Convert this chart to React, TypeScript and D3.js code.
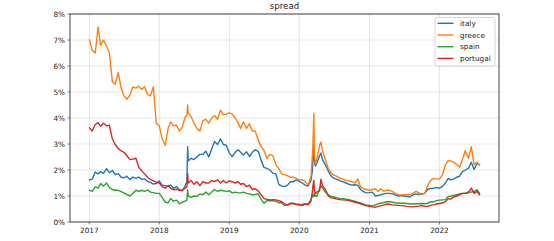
import React from "react";
import * as d3 from "d3";

// Spread values in percent, sampled on the `dates` grid below
const italy = [
  1.62, 1.65, 1.92, 1.85, 1.94, 1.87, 2.05, 1.9, 1.98, 1.82, 1.86, 1.72,
  1.7, 1.76, 1.63, 1.73, 1.68, 1.73, 1.64, 1.66, 1.56, 1.52, 1.46, 1.48,
  1.58, 1.42, 1.4, 1.37, 1.42, 1.3, 1.36, 1.24, 1.2, 1.4, 1.55, 2.9,
  2.35, 2.45, 2.4, 2.5, 2.6, 2.6, 2.72, 2.5, 2.8, 3.1, 2.98, 3.2, 2.98, 2.95,
  2.65, 2.52, 2.68, 2.78, 2.68, 2.58, 2.7, 2.52, 2.68, 2.78, 2.72, 2.38,
  2.1, 2.06, 2.0, 1.88, 1.85, 1.45, 1.38, 1.36, 1.42, 1.55, 1.55, 1.62,
  1.56, 1.5, 1.42, 1.38, 1.6, 1.95, 2.3, 2.9, 2.35, 2.15, 2.25, 2.55, 2.65,
  2.4, 2.2, 1.95, 1.76, 1.68, 1.64, 1.58, 1.55, 1.5, 1.45, 1.42, 1.43, 1.42, 1.25, 1.17, 1.12,
  1.13, 1.15, 1.0, 1.02, 1.05, 1.08, 1.1, 1.1, 1.08, 1.04, 1.0, 1.02,
  1.0, 0.98, 0.97, 1.04, 1.08, 1.06, 1.08, 1.1, 1.25, 1.29, 1.3, 1.33,
  1.3, 1.36, 1.5, 1.68, 1.62, 1.66, 1.72, 1.76, 1.94, 2.0, 2.06, 2.3, 2.02, 2.25, 2.2,
];

const greece = [
  7.0, 6.6, 6.5, 7.5, 6.8, 7.0, 6.75, 6.5, 5.4, 5.3, 5.75, 5.15,
  4.85, 4.72, 4.88, 5.2, 5.15, 5.22, 5.1, 5.2, 4.9, 4.85, 5.2, 3.8,
  3.7, 3.2, 2.95, 3.6, 3.85, 3.7, 3.72, 3.5, 3.65, 4.05, 4.1, 4.5,
  4.2, 4.05, 3.8, 3.6, 3.5, 3.9, 3.95, 3.8, 4.0, 4.1, 3.95, 4.3, 4.12, 4.15,
  4.2, 4.15, 4.0, 3.8, 3.6, 3.85, 3.6, 3.78, 3.5, 3.5, 3.15, 2.9,
  2.75, 2.45, 2.6, 2.55, 2.2, 2.05, 1.85, 1.82, 1.78, 1.72, 1.72, 1.68,
  1.62, 1.63, 1.55, 1.42, 1.75, 2.5, 2.9, 4.18, 2.6, 2.25, 2.4, 2.95, 3.08,
  2.75, 2.4, 2.05, 1.87, 1.8, 1.75, 1.68, 1.65, 1.6, 1.58, 1.55, 1.5, 1.65, 1.35, 1.28, 1.25,
  1.22, 1.25, 1.28, 1.17, 1.28, 1.18, 1.23, 1.22, 1.17, 1.1, 1.05, 1.04,
  1.05, 1.06, 1.05, 1.1, 1.18, 1.12, 1.06, 1.1, 1.4, 1.6, 1.68, 1.66,
  1.65, 1.8, 2.2, 2.36, 2.35, 2.3, 2.22, 2.1, 2.4, 2.75, 2.45, 2.9, 2.2, 2.3, 2.2,
];

const spain = [
  1.22, 1.18, 1.35, 1.3, 1.48, 1.38, 1.5, 1.32, 1.25, 1.22, 1.22, 1.17,
  1.12, 1.05, 1.0, 1.1, 1.22, 1.18, 1.22, 1.18, 1.23, 1.15, 1.13, 1.1,
  1.1, 0.95, 0.76, 0.74, 0.9, 0.8, 0.84, 0.7, 0.76, 0.8, 0.85, 1.23,
  1.0, 0.95, 1.0, 0.98, 1.08, 1.05, 1.15, 1.05, 1.15, 1.25, 1.18, 1.22, 1.2, 1.18,
  1.2, 1.12, 1.15, 1.12, 1.12, 1.15, 1.1, 1.08, 1.05, 1.06, 1.08, 0.88,
  0.72, 0.82, 0.82, 0.82, 0.8, 0.74, 0.74, 0.64, 0.65, 0.71, 0.72, 0.66,
  0.65, 0.68, 0.69, 0.7, 0.85, 1.0, 1.05, 0.97, 1.1, 1.0, 0.98, 1.3, 1.4,
  1.3, 1.15, 1.04, 0.98, 0.96, 0.93, 0.91, 0.9, 0.88, 0.86, 0.83, 0.8, 0.76, 0.73, 0.69, 0.66,
  0.64, 0.62, 0.66, 0.7, 0.72, 0.74, 0.78, 0.78, 0.76, 0.74, 0.73, 0.72,
  0.72, 0.71, 0.69, 0.69, 0.7, 0.7, 0.71, 0.7, 0.72, 0.78, 0.77, 0.82,
  0.84, 0.85, 0.86, 0.98, 0.99, 1.02, 1.05, 1.08, 1.1, 1.1, 1.16, 1.15, 1.18, 1.24, 1.1,
];

const portugal = [
  3.62, 3.5, 3.75, 3.82, 3.68, 3.8, 3.7, 3.72, 3.2, 2.98, 2.82, 2.74,
  2.68, 2.55, 2.4, 2.42, 2.45, 2.1, 1.97, 1.85, 1.72, 1.64, 1.58, 1.53,
  1.5, 1.36, 1.3, 1.4, 1.3, 1.24, 1.26, 1.22, 1.22, 1.3, 1.35, 1.87,
  1.5, 1.6, 1.45, 1.55, 1.4, 1.55, 1.5, 1.5, 1.6, 1.55, 1.62, 1.5, 1.6, 1.5,
  1.58, 1.55, 1.5, 1.55, 1.45, 1.48, 1.36, 1.42, 1.25, 1.28, 1.2, 1.05,
  0.9, 0.87, 0.85, 0.86, 0.85, 0.82, 0.78, 0.7, 0.66, 0.72, 0.71, 0.69,
  0.68, 0.63, 0.7, 0.66, 0.8, 1.15, 1.36, 1.6, 1.2, 1.1, 1.15, 1.2, 1.65,
  1.4, 1.25, 1.0, 0.93, 0.91, 0.88, 0.86, 0.85, 0.84, 0.82, 0.8, 0.76, 0.74, 0.7, 0.66, 0.62,
  0.6, 0.58, 0.57, 0.6, 0.62, 0.65, 0.69, 0.68, 0.66, 0.65, 0.64, 0.63,
  0.62, 0.6, 0.59, 0.58, 0.6, 0.61, 0.63, 0.6, 0.6, 0.64, 0.66, 0.69,
  0.71, 0.73, 0.78, 0.9, 0.88, 0.96, 1.0, 1.04, 1.1, 1.1, 1.12, 1.3, 1.1, 1.18, 1.05,
];

// Sample dates: 1st and 16th of each month, with a few extra dates around sharp moves
const extraDates = [
  "2018-05-25", "2018-05-29", "2020-03-09", "2020-03-12",
  "2020-03-20", "2020-03-25", "2020-04-23", "2022-07-29",
];
const replacedDates: Record<string, string> = {
  "2017-01-01": "2017-01-02",
  "2020-03-01": "2020-03-02",
  "2020-03-16": "2020-03-17",
};
const lastRegular = "2022-07-16";

const seriesNames = ["italy", "greece", "spain", "portugal"];
const seriesColors = ["#1f77b4", "#ff7f0e", "#2ca02c", "#d62728"];
const yTicks = [0, 1, 2, 3, 4, 5, 6, 7, 8];
const xTickYears = [2017, 2018, 2019, 2020, 2021, 2022];
const title = "spread";

function buildDates(): Date[] {
  const out: string[] = [];
  for (let y = 2017; y <= 2022; y++) {
    for (let m = 1; m <= 12; m++) {
      for (const d of ["01", "16"]) {
        const s = `${y}-${String(m).padStart(2, "0")}-${d}`;
        if (s > lastRegular) continue;
        out.push(replacedDates[s] ?? s);
      }
    }
  }
  const all = [...out, ...extraDates].sort();
  const parse = d3.utcParse("%Y-%m-%d");
  return all.map((s) => parse(s) as Date);
}

export default function App() {
  const W = 554;
  const H = 241;
  const left = 70;
  const right = 499;
  const top = 14;
  const bottom = 222;

  const dates = buildDates();
  const allSeries = [italy, greece, spain, portugal];

  const t0 = +dates[0];
  const t1 = +dates[dates.length - 1];
  const pad = (t1 - t0) * 0.05;
  const x = d3.scaleUtc().domain([new Date(t0 - pad), new Date(t1 + pad)]).range([left, right]);
  const y = d3.scaleLinear().domain([0, 8]).range([bottom, top]);

  const line = d3
    .line<number>()
    .x((_, i) => x(dates[i]))
    .y((v) => y(v));

  const xTicks = xTickYears.map((yr) => new Date(Date.UTC(yr, 0, 1)));
  const fontFamily = "'DejaVu Sans', sans-serif";
  const tickFs = 7.3;

  const legendX = 435;
  const legendY = 17.5;
  const rowH = 11.7;

  return (
    <svg
      width={W}
      height={H}
      style={{ position: "absolute", left: 0, top: 0, background: "#fff" }}
      fontFamily={fontFamily}
    >
      <rect x={0} y={0} width={W} height={H} fill="#fff" />
      {/* grid */}
      <g stroke="#b0b0b0" strokeOpacity={0.4} strokeWidth={0.8}>
        {yTicks.map((t) => (
          <line key={"gy" + t} x1={left} x2={right} y1={y(t)} y2={y(t)} />
        ))}
        {xTicks.map((d, i) => (
          <line key={"gx" + i} x1={x(d)} x2={x(d)} y1={top} y2={bottom} />
        ))}
      </g>
      {/* series */}
      <g fill="none" strokeWidth={1.4} strokeLinejoin="round" strokeLinecap="square">
        {allSeries.map((s, i) => (
          <path key={seriesNames[i]} d={line(s) ?? ""} stroke={seriesColors[i]} />
        ))}
      </g>
      {/* frame */}
      <rect x={left} y={top} width={right - left} height={bottom - top} fill="none" stroke="#444" strokeWidth={1} />
      {/* y axis */}
      <g>
        {yTicks.map((t) => (
          <g key={"yt" + t}>
            <line x1={left - 2.5} x2={left} y1={y(t)} y2={y(t)} stroke="#444" strokeWidth={0.7} />
            <text x={left - 5} y={y(t)} dy="0.35em" textAnchor="end" fontSize={tickFs} fill="#222">
              {`${t}%`}
            </text>
          </g>
        ))}
      </g>
      {/* x axis */}
      <g>
        {xTicks.map((d, i) => (
          <g key={"xt" + i}>
            <line x1={x(d)} x2={x(d)} y1={bottom} y2={bottom + 2.5} stroke="#444" strokeWidth={0.7} />
            <text x={x(d)} y={233.3} textAnchor="middle" fontSize={tickFs} fill="#222">
              {xTickYears[i]}
            </text>
          </g>
        ))}
      </g>
      {/* title */}
      <text x={(left + right) / 2} y={8.5} textAnchor="middle" fontSize={8.6} fill="#222">
        {title}
      </text>
      {/* legend */}
      <g>
        <rect
          x={legendX}
          y={legendY}
          width={60}
          height={48.5}
          rx={2}
          fill="#fff"
          fillOpacity={0.8}
          stroke="#ccc"
          strokeWidth={0.8}
        />
        {seriesNames.map((n, i) => {
          const ly = 23.3 + i * rowH;
          return (
            <g key={"lg" + n}>
              <line x1={437.5} x2={453.5} y1={ly} y2={ly} stroke={seriesColors[i]} strokeWidth={1.4} />
              <text x={460} y={ly} dy="0.35em" fontSize={tickFs} fill="#222">
                {n}
              </text>
            </g>
          );
        })}
      </g>
    </svg>
  );
}
